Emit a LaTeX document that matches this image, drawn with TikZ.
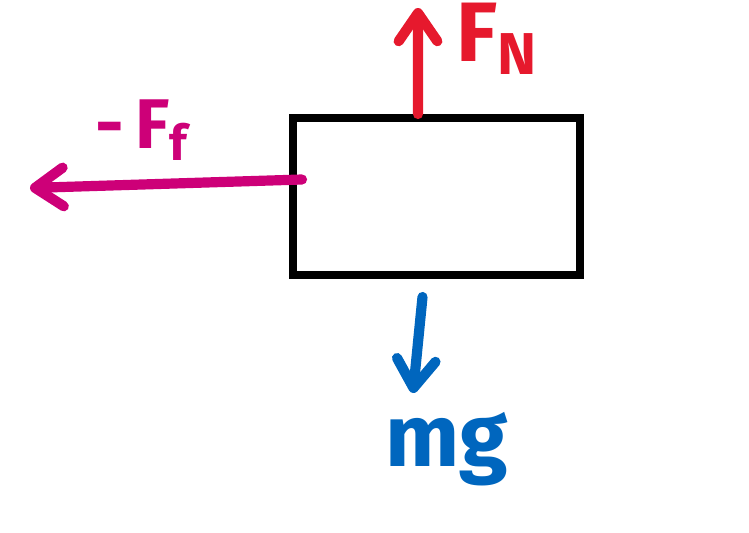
\documentclass[tikz,border=0pt]{standalone}
\usepackage{fontspec}
\setmainfont{Fira Sans}
\usetikzlibrary{arrows.meta,positioning,calc}
\definecolor{fnred}{RGB}{230,25,45}
\definecolor{ffpink}{RGB}{205,0,120}
\definecolor{mgblue}{RGB}{0,102,190}

\begin{document}
\begin{tikzpicture}[
  block/.style={rectangle,draw,line width=2.4pt,minimum width=2.87cm,minimum height=1.57cm,
                inner sep=0pt,outer sep=0pt},
  force/.style={line width=2.9pt,line cap=round,
                -{Straight Barb[round,length=8pt,width=11pt]}},
  lbl/.style={inner sep=0pt}]
\useasboundingbox (0,0) rectangle (7.49,5.33);
\node[block] (block) at (4.365,3.365) {};
% free ends of the forces
\coordinate (fn) at (4.18,5.25);
\coordinate (ff) at (0.30,3.45);
\coordinate (mg) at (4.13,1.40);
\draw[force,fnred] ($(block.north)+(-0.185,0.04)$) -- (fn);
\draw[force,ffpink] ($(block.west)+(0.09,0.17)$) -- (ff);
\draw[force,mgblue] ($(block.south)+(-0.14,-0.22)$) -- (mg);
\node[lbl,text=fnred,font=\bfseries\fontsize{24}{24}\selectfont] (fnlbl) at (4.97,4.94) {F\textsubscript{N}};
\node[lbl,text=ffpink,font=\bfseries\fontsize{20}{20}\selectfont] (fflbl) at (1.42,4.03) {-\,F\textsubscript{f}};
\node[lbl,text=mgblue,font=\bfseries\fontsize{25}{25}\selectfont] (mglbl) at (4.47,0.84) {mg};
\end{tikzpicture}
\end{document}
